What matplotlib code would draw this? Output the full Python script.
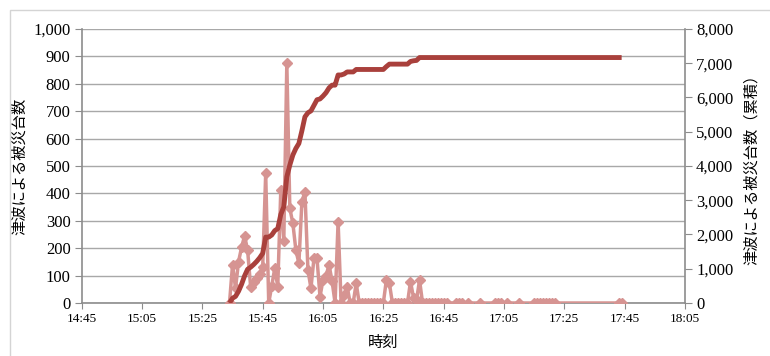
import numpy as np
import matplotlib
matplotlib.use('Agg')
import matplotlib.pyplot as plt
from matplotlib.patches import Rectangle
from matplotlib.ticker import FuncFormatter

plt.rcParams['font.family'] = ['Liberation Serif', 'Noto Sans CJK JP']
jp = ['Noto Sans CJK JP', 'DejaVu Sans']

# 時刻ごとの津波による被災台数
times = ['15:34', '15:35', '15:36', '15:37', '15:38', '15:39', '15:40', '15:41',
         '15:42', '15:43', '15:44', '15:45', '15:46', '15:47', '15:48', '15:49',
         '15:50', '15:51', '15:52', '15:53', '15:54', '15:55', '15:56', '15:57',
         '15:58', '15:59', '16:00', '16:01', '16:02', '16:03', '16:04', '16:05',
         '16:06', '16:07', '16:08', '16:09', '16:10', '16:11', '16:12', '16:13',
         '16:14', '16:15', '16:16', '16:17', '16:18', '16:19', '16:20', '16:21',
         '16:22', '16:23', '16:24', '16:25', '16:26', '16:27', '16:28', '16:29',
         '16:30', '16:31', '16:32', '16:33', '16:34', '16:35', '16:36', '16:37',
         '16:38', '16:39', '16:40', '16:41', '16:42', '16:43', '16:44', '16:45',
         '16:46', '16:49', '16:50', '16:51', '16:53', '16:57', '17:02', '17:03',
         '17:04', '17:06', '17:10', '17:15', '17:16', '17:17', '17:18', '17:19',
         '17:20', '17:21', '17:22', '17:43', '17:44']
counts = [0, 139, 54, 151, 203, 245, 193, 60,
          78, 90, 106, 130, 474, 0, 62, 127,
          60, 412, 225, 875, 345, 291, 193, 145,
          370, 406, 120, 54, 163, 163, 23, 84,
          100, 139, 80, 0, 297, 0, 29, 60,
          0, 0, 72, 0, 0, 0, 0, 0,
          0, 0, 0, 0, 84, 72, 0, 0,
          0, 0, 0, 0, 78, 20, 10, 84,
          0, 0, 0, 0, 0, 0, 0, 0,
          0, 0, 0, 0, 0, 0, 0, 0,
          0, 0, 0, 0, 0, 0, 0, 0,
          0, 0, 0, 0, 0]

xtick_labels = ['14:45', '15:05', '15:25', '15:45', '16:05', '16:25',
                '16:45', '17:05', '17:25', '17:45', '18:05']


def to_min(s):
    h, m = s.split(':')
    return int(h) * 60 + int(m)


x = [to_min(t) for t in times]
cum = np.cumsum(counts)
xticks = [to_min(t) for t in xtick_labels]

gray = '#8c8c8c'

fig = plt.figure(figsize=(7.7, 3.56), dpi=100)
fig.patches.append(Rectangle((10 / 770, -0.1), 1.2, 1.1 - 10 / 356,
                             transform=fig.transFigure, fill=False,
                             edgecolor='#d4d4d4', lw=1))

ax = fig.add_axes([0.1061, 0.1489, 0.7835, 0.7697])
ax.plot(x, counts, color='#d69492', lw=2.5, marker='D', ms=5,
        markeredgecolor='#d69492', zorder=3)
ax.set_xlim(xticks[0], xticks[-1])
ax.set_ylim(0, 1000)
ax.set_yticks(range(0, 1001, 100))
ax.yaxis.set_major_formatter(FuncFormatter(lambda v, p: f'{int(v):,}'))
ax.set_xticks(xticks)
ax.set_xticklabels(xtick_labels)
ax.yaxis.grid(True, color='#a8a8a8', lw=1)
ax.set_axisbelow(True)
for s in ['top', 'right']:
    ax.spines[s].set_visible(False)
for s in ['left', 'bottom']:
    ax.spines[s].set_color(gray)
    ax.spines[s].set_linewidth(1.2)
ax.tick_params(axis='y', direction='out', length=5, color=gray,
               labelsize=12, pad=3)
ax.tick_params(axis='x', direction='out', length=4, color=gray,
               labelsize=9.5, pad=3)
ax.set_ylabel('津波による被災台数', fontfamily=jp, fontsize=11, labelpad=4)
ax.set_xlabel('時刻', fontfamily=jp, fontsize=11, labelpad=7)

ax2 = ax.twinx()
ax2.plot(x, cum, color='#a9403c', lw=3.5, solid_capstyle='butt', zorder=4)
ax2.set_ylim(0, 8000)
ax2.set_yticks(range(0, 8001, 1000))
ax2.yaxis.set_major_formatter(FuncFormatter(lambda v, p: f'{int(v):,}'))
for s in ['top', 'left', 'bottom']:
    ax2.spines[s].set_visible(False)
ax2.spines['right'].set_color(gray)
ax2.spines['right'].set_linewidth(1.2)
ax2.tick_params(axis='y', direction='out', length=5, color=gray,
                labelsize=12, pad=3)
ax2.set_ylabel('津波による被災台数（累積）', fontfamily=jp, fontsize=11,
               labelpad=7)

fig.savefig('out.png', dpi=100)
